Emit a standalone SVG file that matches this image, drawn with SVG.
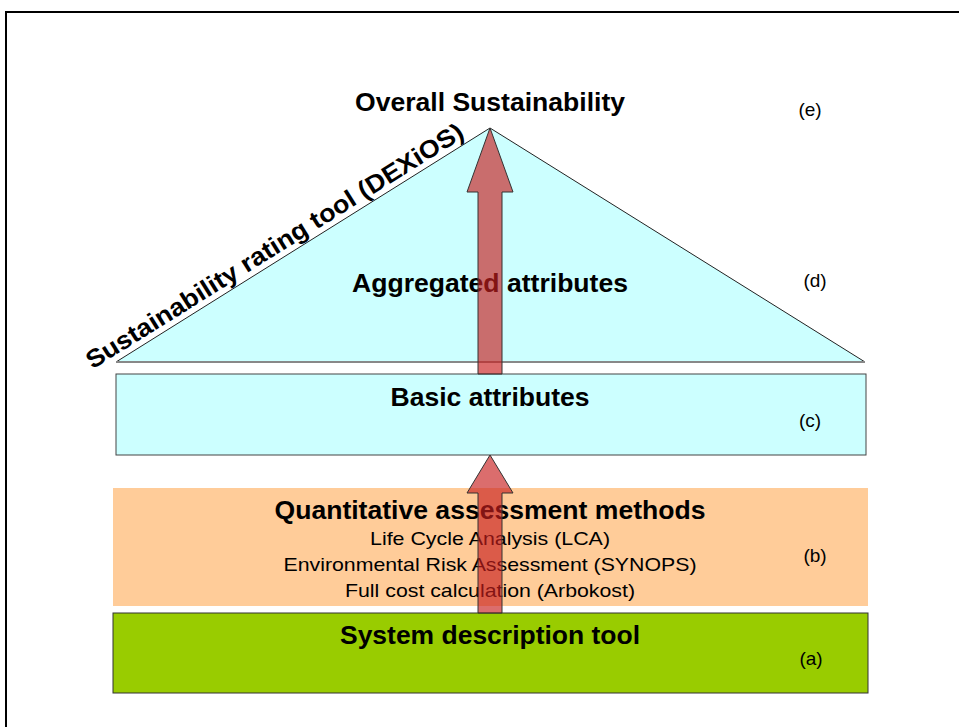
<svg xmlns="http://www.w3.org/2000/svg" width="959" height="727" viewBox="0 0 959 727">
<style>
.b{font-family:"Liberation Sans",Arial,sans-serif;font-weight:bold;font-size:25px;fill:#000}
.r{font-family:"Liberation Sans",Arial,sans-serif;font-size:19px;fill:#000}
.l{font-family:"Liberation Sans",Arial,sans-serif;font-size:19px;fill:#000}
.arrow{fill:#c81e1e;fill-opacity:0.65;stroke:#333;stroke-width:1}
</style>
<rect x="0" y="0" width="959" height="727" fill="#fff"/>
<rect x="6" y="12" width="1000" height="800" fill="none" stroke="#000" stroke-width="2"/>
<g id="triangle">
<polygon points="116,362 490,128 865,362" fill="#ccffff" stroke="#222" stroke-width="1"/>
<line x1="116" y1="362" x2="865" y2="362" stroke="#888" stroke-width="2"/>
<text class="b" x="490" y="292" text-anchor="middle" textLength="276" lengthAdjust="spacingAndGlyphs">Aggregated attributes</text>
<text class="l" x="815" y="287" text-anchor="middle">(d)</text>
</g>
<g id="top">
<text class="b" x="490" y="111" text-anchor="middle" textLength="270" lengthAdjust="spacingAndGlyphs">Overall Sustainability</text>
<text class="l" x="810" y="116" text-anchor="middle">(e)</text>
</g>
<g id="dexios">
<text class="b" transform="translate(279,253) rotate(-32)" text-anchor="middle" textLength="440" lengthAdjust="spacingAndGlyphs">Sustainability rating tool (DEXiOS)</text>
</g>
<g id="basic">
<rect x="116" y="374" width="750" height="81" fill="#ccffff" stroke="#444" stroke-width="1"/>
<text class="b" x="490" y="406" text-anchor="middle" textLength="199" lengthAdjust="spacingAndGlyphs">Basic attributes</text>
<text class="l" x="810" y="427" text-anchor="middle">(c)</text>
</g>
<g id="quant">
<rect x="113" y="488" width="755" height="118" fill="#ffcc99"/>
<text class="b" x="490" y="519" text-anchor="middle" textLength="431" lengthAdjust="spacingAndGlyphs">Quantitative assessment methods</text>
<text class="r" x="490" y="545" text-anchor="middle" textLength="240" lengthAdjust="spacingAndGlyphs">Life Cycle Analysis (LCA)</text>
<text class="r" x="490" y="571" text-anchor="middle" textLength="413" lengthAdjust="spacingAndGlyphs">Environmental Risk Assessment (SYNOPS)</text>
<text class="r" x="490" y="597" text-anchor="middle" textLength="290" lengthAdjust="spacingAndGlyphs">Full cost calculation (Arbokost)</text>
<text class="l" x="815" y="562" text-anchor="middle">(b)</text>
</g>
<g id="system">
<rect x="113" y="613" width="755" height="80" fill="#99cc00" stroke="#333" stroke-width="1"/>
<text class="b" x="490" y="644" text-anchor="middle" textLength="300" lengthAdjust="spacingAndGlyphs">System description tool</text>
<text class="l" x="811" y="665" text-anchor="middle">(a)</text>
</g>
<g id="connectors">
<polygon class="arrow" points="490,128 513,192 502,192 502,374 478,374 478,192 467,192"/>
<polygon class="arrow" points="490,455 513,493 502,493 502,613 478,613 478,493 467,493"/>
</g>
</svg>
